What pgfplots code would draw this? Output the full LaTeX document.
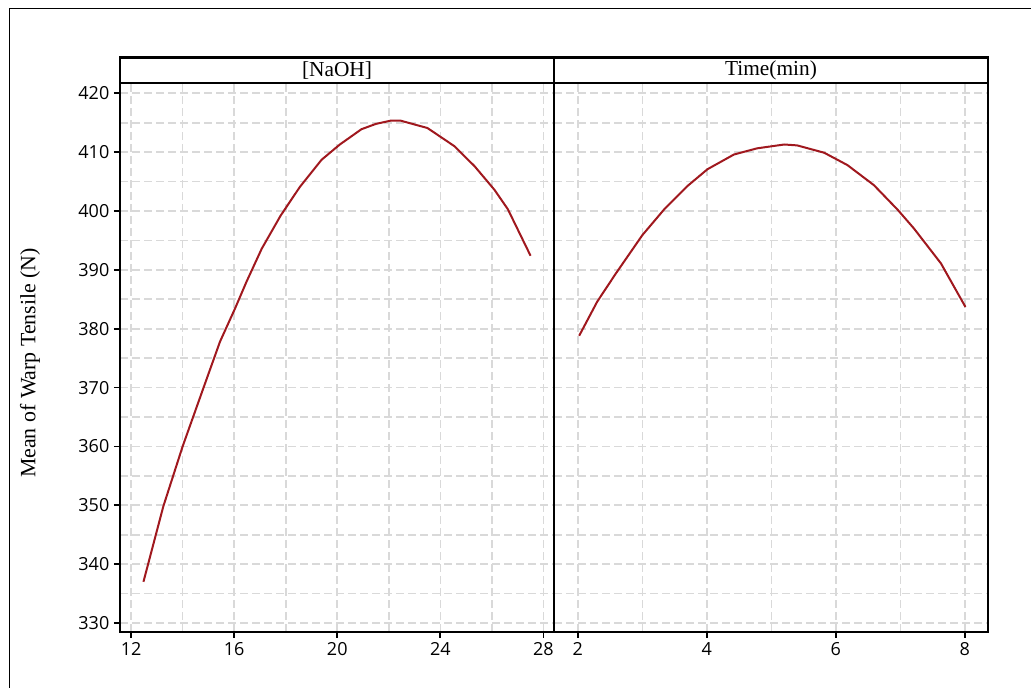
\documentclass[border=0pt]{standalone}
\usepackage{fontspec}
\setmainfont{Liberation Serif}
\newfontfamily\ticksans{Open Sans}
\usepackage{pgfplots}
\pgfplotsset{compat=1.18}
\usetikzlibrary{calc}
\definecolor{curvered}{RGB}{160,24,30}
\definecolor{gridgray}{RGB}{217,217,217}

% one facet panel, sizes in pt (1px = 0.75pt)
\pgfplotsset{panel/.style={
  scale only axis, width=325.5pt, height=411.75pt,
  ymin=328.47, ymax=421.75,
  axis line style={line width=1.6pt},
  grid=both,
  major grid style={gridgray, line width=1.2pt, dash pattern=on 6pt off 3pt},
  minor grid style={gridgray, line width=1.2pt, dash pattern=on 6pt off 3pt},
  tick align=outside, tick pos=left,
  major tick length=4.5pt, minor tick length=0pt,
  tick style={black, line width=1.3pt},
  ticklabel style={font=\ticksans\fontsize{13.5}{15}\selectfont},
  /pgf/number format/assume math mode=true,
  ytick={330,340,...,420}, minor ytick={335,345,...,415},
}}

\begin{document}
\begin{tikzpicture}
\begin{axis}[panel, name=L, at={(90pt,42pt)}, anchor=south west,
  xmin=11.57, xmax=28.41,
  xtick={12,16,20,24,28}, minor xtick={14,18,22,26}]
\addplot[curvered, line width=1.5pt, no markers, sharp plot] coordinates {
  (12.48,337.0) (13.25,349.8) (14.0,360.0) (14.87,370.7) (15.45,377.8)
  (16.03,383.4) (16.48,388.0) (17.07,393.6) (17.8,399.2) (18.55,404.1) (19.39,408.7)
  (20.1,411.3) (20.94,413.9) (21.5,414.8) (22.07,415.35) (22.46,415.35) (23.5,414.1)
  (24.55,411.0) (25.33,407.6) (26.1,403.6) (26.62,400.3) (27.5,392.4)};
\end{axis}
\begin{axis}[panel, name=R, at={(415.5pt,42pt)}, anchor=south west,
  xmin=1.63, xmax=8.36,
  xtick={2,4,6,8}, minor xtick={3,5,7},
  yticklabels={}, y tick style={draw=none}]
\addplot[curvered, line width=1.5pt, no markers, sharp plot] coordinates {
  (2.02,378.8) (2.30,384.6) (2.59,389.4) (3.0,395.9) (3.34,400.3)
  (3.70,404.25) (4.01,407.1) (4.42,409.6) (4.78,410.65) (5.20,411.3)
  (5.40,411.15) (5.82,409.9) (6.18,407.8) (6.59,404.4) (6.96,400.2)
  (7.21,397.05) (7.63,391.1) (8.01,383.7)};
\end{axis}
% facet strips
\draw[line width=1.6pt] (L.north west) rectangle ([yshift=19.1pt]R.north east);
\draw[line width=1.6pt] (L.north east) -- ([yshift=19.1pt]L.north east);
\node[font=\fontsize{16}{19}\selectfont] at ($(L.north)+(0,9.55pt)$) {[NaOH]};
\node[font=\fontsize{16}{19}\selectfont] at ($(R.north)+(0,9.55pt)$) {Time(min)};
% y label
\node[rotate=90, font=\fontsize{16.4}{19}\selectfont] at (22.5pt,243.75pt) {Mean of Warp Tensile (N)};
% outer frame
\draw[line width=0.8pt] (7pt,0pt) -- (7pt,509.8pt) -- (773.25pt,509.8pt);
\pgfresetboundingbox
\path[use as bounding box] (0,0) rectangle (773.25pt,516pt);
\end{tikzpicture}
\end{document}
